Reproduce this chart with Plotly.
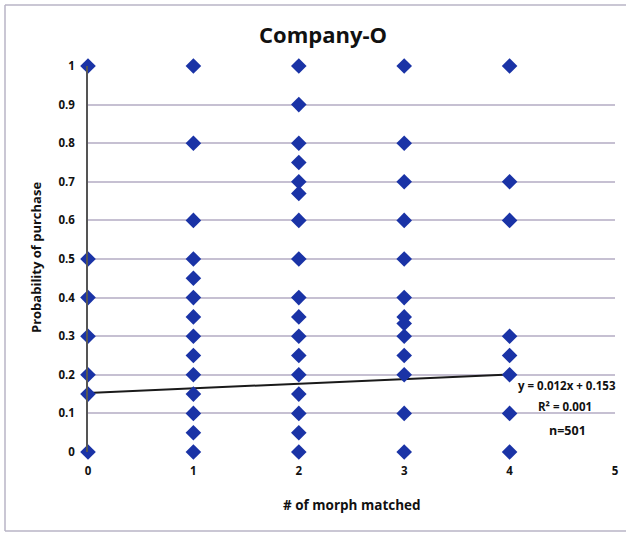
import plotly.graph_objects as go

# Data: x = # of morph matched, y = probability of purchase
x0_vals = [1, 0.5, 0.4, 0.3, 0.2, 0.15, 0]
x1_vals = [1, 0.8, 0.6, 0.5, 0.45, 0.4, 0.35, 0.3, 0.25, 0.2, 0.15, 0.1, 0.05, 0]
x2_vals = [1, 0.9, 0.8, 0.75, 0.7, 0.67, 0.6, 0.5, 0.4, 0.35, 0.3, 0.25, 0.2, 0.15, 0.1, 0.05, 0]
x3_vals = [1, 0.8, 0.7, 0.6, 0.5, 0.4, 0.35, 0.333, 0.3, 0.25, 0.2, 0.1, 0]
x4_vals = [1, 0.7, 0.6, 0.3, 0.25, 0.2, 0.1, 0]
groups = [0, 1, 2, 3, 4]

slope = 0.012
intercept = 0.153
trend_x = [0, 4]
x_ticks = [0, 1, 2, 3, 4, 5]
y_ticks = [0, 0.1, 0.2, 0.3, 0.4, 0.5, 0.6, 0.7, 0.8, 0.9, 1]
y_tick_text = ["0", "0.1", "0.2", "0.3", "0.4", "0.5", "0.6", "0.7", "0.8", "0.9", "1"]

xs, ys = [], []
for g, vals in zip(groups, [x0_vals, x1_vals, x2_vals, x3_vals, x4_vals]):
    xs += [g] * len(vals)
    ys += vals

fig = go.Figure()
fig.add_trace(go.Scatter(
    x=trend_x, y=[slope * v + intercept for v in trend_x], mode="lines",
    line=dict(color="#1a1a1a", width=2), hoverinfo="skip", showlegend=False,
    cliponaxis=False))
fig.add_trace(go.Scatter(
    x=xs, y=ys, mode="markers",
    marker=dict(symbol="diamond", size=12, color="#1a33a6"),
    showlegend=False, cliponaxis=False))

W, H = 626, 533
L, R, T, B = 88, 11, 66, 81
pw, ph = W - L - R, H - T - B

def px_x(p):
    return (p - L) / pw

def px_y(p):
    return (H - B - p) / ph

font_family = "Open Sans, Lato, sans-serif"

def label(text, x, y, size, angle=0):
    return dict(text=text, xref="paper", yref="paper", x=px_x(x), y=px_y(y),
                xanchor="center", yanchor="middle", showarrow=False,
                textangle=angle, font=dict(family=font_family, size=size, color="#111"))

border = dict(color="#b9b4c6", width=1.5)

fig.update_layout(
    width=W, height=H,
    margin=dict(l=L, r=R, t=T, b=B, autoexpand=False),
    paper_bgcolor="white", plot_bgcolor="white",
    xaxis=dict(range=[0, 5], tickvals=x_ticks, showgrid=False, zeroline=False,
               showline=False, ticks="", ticklabelstandoff=10,
               tickfont=dict(family=font_family, size=11.5, color="#111", weight="bold")),
    yaxis=dict(range=[0, 1], tickvals=y_ticks, ticktext=y_tick_text,
               showgrid=True, gridcolor="#c6c0d2", gridwidth=1.5,
               zeroline=False, showline=True, linecolor="#555555", linewidth=1.5,
               ticks="", ticklabelstandoff=9,
               tickfont=dict(family=font_family, size=11.5, color="#111", weight="bold")),
    shapes=[
        dict(type="line", xref="paper", yref="paper", x0=px_x(5), x1=px_x(626),
             y0=px_y(5), y1=px_y(5), line=border, layer="below"),
        dict(type="line", xref="paper", yref="paper", x0=px_x(5), x1=px_x(626),
             y0=px_y(531), y1=px_y(531), line=border, layer="below"),
        dict(type="line", xref="paper", yref="paper", x0=px_x(5), x1=px_x(5),
             y0=px_y(5), y1=px_y(531), line=border, layer="below"),
    ],
    annotations=[
        label("<b>Company-O</b>", 323, 34, 22),
        label("<b># of morph matched</b>", 352, 505, 13.5),
        label("<b>Probability of purchase</b>", 36, 258, 13, angle=-90),
        label("<b>y = 0.012x + 0.153</b>", 567, 385, 11.5),
        label("<b>R² = 0.001</b>", 565, 406, 11.5),
        label("<b>n=501</b>", 567, 430, 12.5),
    ],
)

fig.write_html("out.html", config={"displayModeBar": False},
               post_script="document.body.style.margin='0';")
